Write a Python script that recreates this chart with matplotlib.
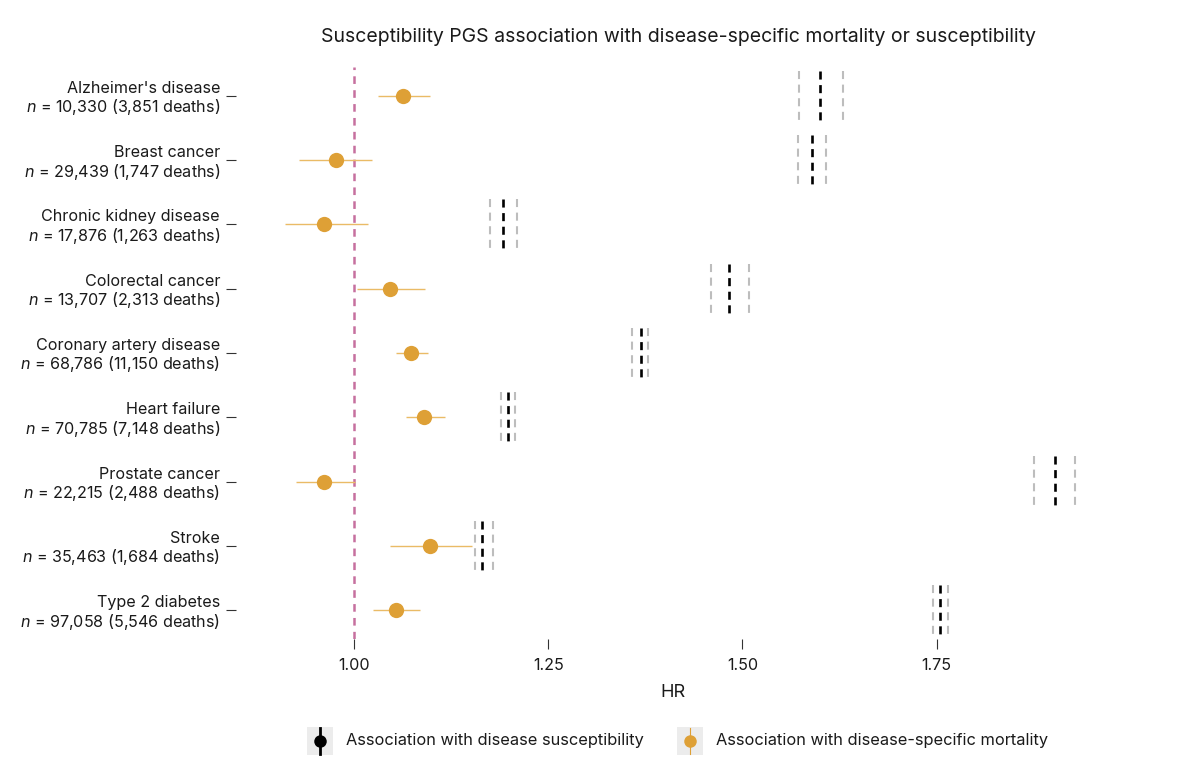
import matplotlib
matplotlib.use("Agg")
import matplotlib.pyplot as plt
from matplotlib.patches import Rectangle
from matplotlib.lines import Line2D

plt.rcParams['font.family'] = ['Inter', 'DejaVu Sans']
plt.rcParams['mathtext.fontset'] = 'custom'
plt.rcParams['mathtext.rm'] = 'Inter'
plt.rcParams['mathtext.it'] = 'Inter:italic'
plt.rcParams['lines.scale_dashes'] = False

# data
diseases = ["Alzheimer's disease", "Breast cancer", "Chronic kidney disease",
            "Colorectal cancer", "Coronary artery disease", "Heart failure",
            "Prostate cancer", "Stroke", "Type 2 diabetes"]
n_total = ["10,330", "29,439", "17,876", "13,707", "68,786", "70,785",
           "22,215", "35,463", "97,058"]
n_deaths = ["3,851", "1,747", "1,263", "2,313", "11,150", "7,148",
            "2,488", "1,684", "5,546"]

# mortality HR (point + 95% CI)
mort_hr = [1.063, 0.976, 0.961, 1.046, 1.073, 1.090, 0.961, 1.097, 1.054]
mort_lo = [1.030, 0.929, 0.910, 1.004, 1.054, 1.066, 0.925, 1.046, 1.024]
mort_hi = [1.098, 1.023, 1.017, 1.091, 1.095, 1.117, 1.001, 1.152, 1.085]

# susceptibility HR (point + 95% CI)
susc_hr = [1.600, 1.590, 1.192, 1.483, 1.369, 1.198, 1.902, 1.165, 1.755]
susc_lo = [1.573, 1.571, 1.175, 1.459, 1.358, 1.189, 1.876, 1.155, 1.745]
susc_hi = [1.629, 1.608, 1.210, 1.508, 1.378, 1.207, 1.928, 1.178, 1.765]

xticks = [1.00, 1.25, 1.50, 1.75]

ORANGE = '#dea036'
ORANGE_LIGHT = '#eabb66'
PINK = '#c6709f'
GREY = '#bdbdbd'
DASH = (0, (5.8, 4.0))

fig = plt.figure(figsize=(12, 7.63), dpi=100)
ax = fig.add_axes([236 / 1200, 1 - 639 / 763, (1110 - 236) / 1200, (639 - 67) / 763])

ypos = list(range(len(diseases)))
half = 0.39

# reference line at HR = 1
ax.axvline(1.0, color=PINK, lw=1.8, dashes=(5.5, 4.5), zorder=1)

ax.vlines(susc_lo, [y - half for y in ypos], [y + half for y in ypos],
          colors=GREY, lw=1.5, linestyles=DASH, zorder=2)
ax.vlines(susc_hi, [y - half for y in ypos], [y + half for y in ypos],
          colors=GREY, lw=1.5, linestyles=DASH, zorder=2)
ax.vlines(susc_hr, [y - half for y in ypos], [y + half for y in ypos],
          colors='black', lw=1.9, linestyles=DASH, zorder=3)

ax.hlines(ypos, mort_lo, mort_hi, colors=ORANGE_LIGHT, lw=1.0, zorder=4)
ax.plot(mort_hr, ypos, 'o', color=ORANGE, ms=11, mec='none', zorder=5)

labels = [f"{d}\n$n$ = {n} ({k} deaths)" for d, n, k in zip(diseases, n_total, n_deaths)]
ax.set_yticks(ypos)
ax.set_yticklabels(labels, fontsize=11.6, color='#1a1a1a', linespacing=1.1)
ax.set_ylim(len(diseases) - 1 + 0.45, -0.45)

ax.set_xlim(0.8475, 1.9735)
ax.set_xticks(xticks)
ax.set_xticklabels([f"{t:.2f}" for t in xticks], fontsize=11.6, color='#1a1a1a')
ax.set_xlabel("HR", fontsize=13, color='#1a1a1a', labelpad=8)

for s in ax.spines.values():
    s.set_visible(False)
ax.tick_params(axis='both', length=7.5, width=0.8, color='#333333', direction='out')
ax.tick_params(axis='y', pad=4)
ax.tick_params(axis='x', pad=6)

fig.text(678 / 1200, 1 - 37 / 763,
         "Susceptibility PGS association with disease-specific mortality or susceptibility",
         ha='center', va='center', fontsize=14, color='#1a1a1a')

# legend (ggplot-style keys)
ky = 1 - 741 / 763
entries = [(320, 'black', 2.0, "Association with disease susceptibility"),
           (690, ORANGE, 0.8, "Association with disease-specific mortality")]
for cx, col, lw, txt in entries:
    fig.patches.append(Rectangle(((cx - 13) / 1200, 1 - 755 / 763), 26 / 1200, 28 / 763,
                                 transform=fig.transFigure, facecolor='#ececec',
                                 edgecolor='none'))
    fig.lines.append(Line2D([cx / 1200, cx / 1200], [1 - 754 / 763, 1 - 728 / 763],
                            transform=fig.transFigure, color=col, lw=lw))
    fig.lines.append(Line2D([cx / 1200], [ky], transform=fig.transFigure, marker='o',
                            color=col, ms=9, mec='none'))
    fig.text((cx + 26) / 1200, ky, txt, ha='left', va='center', fontsize=11.8,
             color='#1a1a1a')

fig.savefig("out.png", dpi=100)
